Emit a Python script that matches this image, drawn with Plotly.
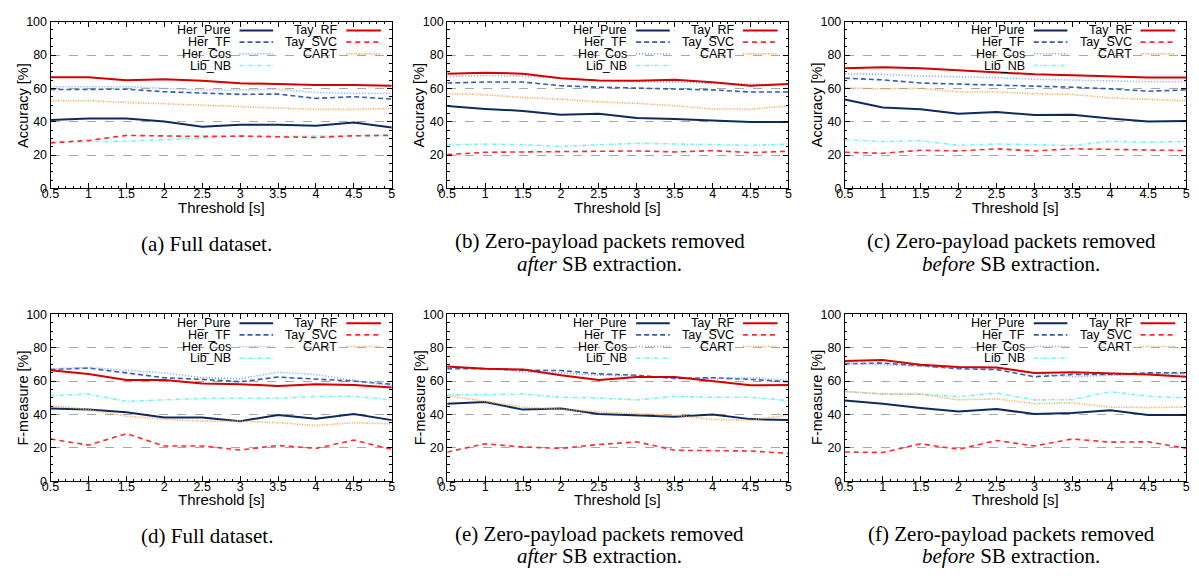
import plotly.graph_objects as go

# ---------------- data ----------------
thresholds = [0.5, 1, 1.5, 2, 2.5, 3, 3.5, 4, 4.5, 5]
x_tick_labels = ["0.5", "1", "1.5", "2", "2.5", "3", "3.5", "4", "4.5", "5"]
y_tick_vals = [0, 20, 40, 60, 80, 100]
series_names = ["Her_Pure", "Her_TF", "Her_Cos", "Lib_NB", "Tay_RF", "Tay_SVC", "CART"]

# (a) Accuracy, full dataset
acc_full_her_pure = [41.0, 41.9, 41.9, 40.2, 37.0, 38.2, 38.2, 37.6, 39.6, 36.6]
acc_full_her_tf = [59.3, 59.3, 59.5, 58.0, 57.0, 56.4, 56.6, 54.0, 55.0, 53.6]
acc_full_her_cos = [61.0, 61.0, 61.0, 60.0, 59.0, 59.0, 59.5, 57.5, 57.0, 57.0]
acc_full_lib_nb = [27.9, 28.3, 28.3, 29.2, 30.4, 31.4, 31.2, 31.2, 31.6, 32.2]
acc_full_tay_rf = [66.7, 66.7, 64.9, 65.5, 64.5, 63.0, 62.6, 62.0, 62.0, 61.6]
acc_full_tay_svc = [27.3, 28.8, 31.8, 31.4, 31.2, 31.4, 31.2, 30.6, 31.6, 31.8]
acc_full_cart = [52.6, 52.6, 51.6, 50.8, 50.0, 49.0, 48.3, 47.4, 47.4, 48.0]

# (b) Accuracy, zero-payload removed after SB extraction
acc_after_her_pure = [49.4, 47.7, 46.5, 44.2, 44.8, 42.2, 41.7, 40.9, 39.9, 39.9]
acc_after_her_tf = [63.2, 63.8, 63.8, 61.6, 60.7, 60.3, 59.7, 59.1, 57.8, 57.8]
acc_after_her_cos = [67.0, 67.8, 67.4, 65.9, 64.5, 64.0, 64.0, 63.0, 62.4, 62.2]
acc_after_lib_nb = [26.2, 26.6, 26.2, 25.2, 26.2, 27.1, 26.7, 26.4, 25.8, 26.6]
acc_after_tay_rf = [68.8, 69.4, 68.8, 66.1, 64.7, 64.5, 65.1, 63.6, 61.6, 62.6]
acc_after_tay_svc = [20.3, 21.7, 21.9, 22.1, 22.1, 22.5, 21.9, 22.7, 21.5, 22.3]
acc_after_cart = [56.8, 56.2, 54.5, 53.5, 51.9, 51.0, 49.6, 47.7, 47.5, 49.4]

# (c) Accuracy, zero-payload removed before SB extraction
acc_before_her_pure = [53.3, 48.6, 47.5, 44.8, 45.9, 44.0, 44.2, 41.9, 40.1, 40.5]
acc_before_her_tf = [66.1, 65.1, 63.2, 62.6, 61.6, 61.2, 60.7, 59.7, 58.3, 59.1]
acc_before_her_cos = [68.8, 68.4, 67.4, 66.9, 66.5, 65.5, 64.9, 64.5, 64.0, 64.0]
acc_before_lib_nb = [29.3, 28.1, 28.7, 25.8, 26.7, 26.4, 25.8, 28.3, 27.7, 28.1]
acc_before_tay_rf = [72.1, 72.7, 72.1, 70.9, 70.0, 68.4, 67.8, 67.2, 66.5, 66.5]
acc_before_tay_svc = [21.7, 21.1, 22.9, 22.5, 23.8, 22.5, 23.8, 23.4, 23.4, 22.7]
acc_before_cart = [60.3, 59.7, 60.1, 57.8, 57.8, 56.8, 56.4, 54.3, 53.5, 52.5]

# (d) F-measure, full dataset
f_full_her_pure = [43.5, 42.9, 41.3, 38.2, 38.2, 36.0, 39.6, 37.4, 40.2, 36.6]
f_full_her_tf = [66.9, 67.8, 64.9, 62.0, 61.0, 59.6, 62.4, 61.0, 60.0, 58.1]
f_full_her_cos = [67.4, 68.2, 66.5, 64.9, 62.0, 61.4, 65.3, 63.9, 60.4, 57.1]
f_full_lib_nb = [51.3, 52.2, 47.8, 48.7, 49.7, 49.7, 49.7, 50.7, 50.9, 48.7]
f_full_tay_rf = [66.5, 64.3, 60.6, 60.6, 58.5, 58.1, 57.1, 58.1, 57.7, 56.1]
f_full_tay_svc = [25.3, 21.6, 28.5, 21.1, 21.1, 18.7, 21.4, 19.7, 24.6, 19.1]
f_full_cart = [45.4, 42.9, 39.0, 37.2, 36.0, 36.0, 35.1, 33.3, 35.1, 34.3]

# (e) F-measure, zero-payload removed after SB extraction
f_after_her_pure = [46.4, 47.4, 42.9, 43.5, 40.2, 39.6, 38.6, 40.0, 37.2, 36.6]
f_after_her_tf = [67.4, 67.4, 66.5, 66.3, 64.3, 63.5, 61.6, 62.0, 61.0, 59.6]
f_after_her_cos = [68.2, 67.8, 65.5, 64.9, 63.5, 63.0, 62.0, 61.4, 62.0, 60.4]
f_after_lib_nb = [51.7, 51.9, 52.2, 50.3, 49.9, 48.7, 50.9, 50.3, 50.3, 48.3]
f_after_tay_rf = [68.8, 67.4, 66.9, 63.5, 60.6, 62.4, 62.4, 60.0, 57.5, 57.7]
f_after_tay_svc = [17.5, 22.4, 20.5, 19.7, 22.0, 23.6, 18.5, 18.1, 18.1, 16.6]
f_after_cart = [51.3, 47.8, 44.4, 43.1, 41.5, 40.5, 39.6, 37.0, 36.6, 39.6]

# (f) F-measure, zero-payload removed before SB extraction
f_before_her_pure = [48.3, 46.4, 43.9, 41.7, 43.3, 40.2, 40.9, 42.5, 39.6, 39.6]
f_before_her_tf = [70.4, 70.8, 69.2, 67.4, 66.9, 62.6, 63.9, 63.9, 64.9, 64.9]
f_before_her_cos = [70.8, 69.8, 68.8, 67.8, 67.8, 64.5, 62.6, 63.5, 64.3, 64.3]
f_before_lib_nb = [53.8, 52.2, 52.2, 50.7, 52.8, 48.7, 48.9, 53.6, 50.9, 49.9]
f_before_tay_rf = [72.1, 72.7, 69.8, 68.4, 68.2, 64.9, 65.3, 64.5, 63.9, 62.6]
f_before_tay_svc = [17.5, 17.2, 22.4, 19.1, 24.4, 21.1, 25.3, 23.4, 23.6, 19.7]
f_before_cart = [53.8, 52.2, 52.2, 48.7, 49.3, 46.4, 47.0, 44.4, 44.1, 44.4]

panel_data = [
    [acc_full_her_pure, acc_full_her_tf, acc_full_her_cos, acc_full_lib_nb, acc_full_tay_rf, acc_full_tay_svc, acc_full_cart],
    [acc_after_her_pure, acc_after_her_tf, acc_after_her_cos, acc_after_lib_nb, acc_after_tay_rf, acc_after_tay_svc, acc_after_cart],
    [acc_before_her_pure, acc_before_her_tf, acc_before_her_cos, acc_before_lib_nb, acc_before_tay_rf, acc_before_tay_svc, acc_before_cart],
    [f_full_her_pure, f_full_her_tf, f_full_her_cos, f_full_lib_nb, f_full_tay_rf, f_full_tay_svc, f_full_cart],
    [f_after_her_pure, f_after_her_tf, f_after_her_cos, f_after_lib_nb, f_after_tay_rf, f_after_tay_svc, f_after_cart],
    [f_before_her_pure, f_before_her_tf, f_before_her_cos, f_before_lib_nb, f_before_tay_rf, f_before_tay_svc, f_before_cart],
]
y_titles = ["Accuracy [%]"] * 3 + ["F-measure [%]"] * 3
caption_line1 = [
    "(a) Full dataset.",
    "(b) Zero-payload packets removed",
    "(c) Zero-payload packets removed",
    "(d) Full dataset.",
    "(e) Zero-payload packets removed",
    "(f) Zero-payload packets removed",
]
caption_line2 = [
    "",
    "<i>after</i> SB extraction.",
    "<i>before</i> SB extraction.",
    "",
    "<i>after</i> SB extraction.",
    "<i>before</i> SB extraction.",
]

# ---------------- styles ----------------
colors = ["#0d2a5c", "#2f5fb0", "#7f9ff0", "#70f5f5", "#d40000", "#ff2a2a", "#ffa040"]
dashes = ["solid", "5px,3px", "1px,2px", "4px,2px,1px,2px", "solid", "5px,4px", "1px,1.5px"]
widths = [2.0, 1.6, 1.6, 1.6, 2.0, 1.6, 1.6]

W, H = 1199, 576
PW, PH = 345, 171
lefts = [42, 443, 845]
tops = [15, 315]
cap_x = [200, 597, 1013]
cap_y1 = [[243, 240, 240], [542, 540, 540]]
cap_y2 = [[0, 263, 263], [0, 563, 563]]

SANS = "Liberation Sans, Arial, Helvetica, sans-serif"
SERIF = "Liberation Serif, Times New Roman, serif"


def px(x):
    return x / W


def py(y):
    return 1 - y / H


fig = go.Figure()
shapes = []
annotations = []

for p in range(6):
    r, c = divmod(p, 3)
    L, T = lefts[c], tops[r]
    idx = "" if p == 0 else str(p + 1)
    xa, ya = "x" + idx, "y" + idx
    for s in range(7):
        fig.add_trace(go.Scatter(
            x=thresholds, y=panel_data[p][s], mode="lines", name=series_names[s],
            xaxis=xa, yaxis=ya, showlegend=False,
            line=dict(color=colors[s], width=widths[s], dash=dashes[s]),
        ))
    common = dict(showline=True, linecolor="black", linewidth=1, mirror="ticks",
                  ticks="inside", ticklen=5, tickcolor="black",
                  tickfont=dict(family=SANS, size=12.5, color="black"))
    fig.update_layout({
        "xaxis" + idx: dict(domain=[px(L), px(L + PW)], anchor=ya, range=[0.5, 5],
                            tickvals=thresholds, ticktext=x_tick_labels, showgrid=False,
                            zeroline=False, ticklabelstandoff=-6,
                            minor=dict(ticks="inside", ticklen=2.5, dtick=0.1, tickcolor="black"),
                            **common),
        "yaxis" + idx: dict(domain=[py(T + PH), py(T)], anchor=xa, range=[0, 100],
                            tickvals=y_tick_vals, showgrid=True, gridcolor="#a8a8a8",
                            griddash="dash", gridwidth=1, zeroline=False,
                            minor=dict(ticks="inside", ticklen=2.5, dtick=5, tickcolor="black"),
                            **common),
    })
    # white legend box (covers grid)
    shapes.append(dict(type="rect", xref="paper", yref="paper",
                       x0=px(L + 123), x1=px(L + 341), y0=py(T + 51), y1=py(T + 2),
                       fillcolor="white", line=dict(width=0), layer="between"))
    rows = [9, 21, 33, 45]
    cols = [(184, 191, 225), (292, 299, 334)]
    order = [(3, 0, 3), (2, 0, 2), (6, 1, 2), (1, 0, 1), (5, 1, 1), (0, 0, 0), (4, 1, 0)]
    for s, cc, rr in order:
        tx, sx0, sx1 = cols[cc]
        yy = T + rows[rr]
        annotations.append(dict(text=series_names[s], xref="paper", yref="paper",
                                x=px(L + tx), y=py(yy), xanchor="right", yanchor="middle",
                                showarrow=False, bgcolor="rgba(0,0,0,0)",
                                font=dict(family=SANS, size=12.5, color="black")))
        shapes.append(dict(type="line", xref="paper", yref="paper",
                           x0=px(L + sx0), x1=px(L + sx1), y0=py(yy), y1=py(yy),
                           line=dict(color=colors[s], width=widths[s], dash=dashes[s]),
                           layer="above"))
    # axis titles
    annotations.append(dict(text=y_titles[p], xref="paper", yref="paper",
                            x=px(L - 28), y=py(T + PH / 2), textangle=-90,
                            xanchor="center", yanchor="middle", showarrow=False,
                            font=dict(family=SANS, size=14.5, color="black")))
    annotations.append(dict(text="Threshold [s]", xref="paper", yref="paper",
                            x=px(L + PW / 2), y=py(T + 190), xanchor="center", yanchor="middle",
                            showarrow=False, font=dict(family=SANS, size=15, color="black")))
    annotations.append(dict(text=caption_line1[p], xref="paper", yref="paper",
                            x=px(cap_x[c]), y=py(cap_y1[r][c]), xanchor="center", yanchor="middle",
                            showarrow=False, font=dict(family=SERIF, size=21, color="black")))
    if caption_line2[p]:
        annotations.append(dict(text=caption_line2[p], xref="paper", yref="paper",
                                x=px(cap_x[c]), y=py(cap_y2[r][c]), xanchor="center", yanchor="middle",
                                showarrow=False, font=dict(family=SERIF, size=21, color="black")))

fig.update_layout(width=W, height=H, autosize=False,
                  margin=dict(l=0, r=0, t=0, b=0),
                  paper_bgcolor="white", plot_bgcolor="white",
                  shapes=shapes, annotations=annotations, showlegend=False)

fig.write_html("out.html", config={"displayModeBar": False},
               post_script="document.body.style.margin='0px';")
